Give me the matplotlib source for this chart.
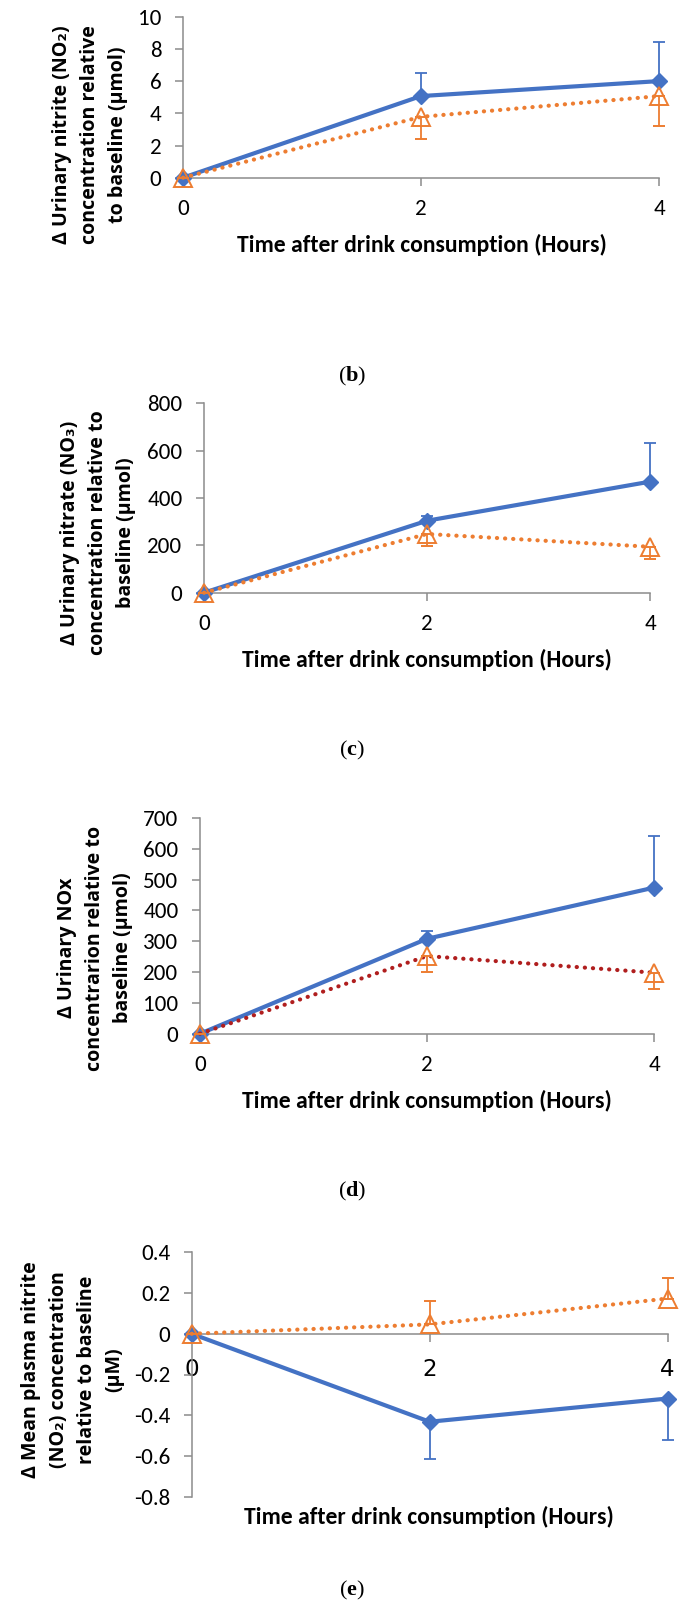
import matplotlib
matplotlib.use("Agg")
import matplotlib.pyplot as plt
from matplotlib.ticker import FuncFormatter

plt.rcParams["mathtext.fontset"] = "custom"
plt.rcParams["mathtext.rm"] = "Liberation Serif"
plt.rcParams["mathtext.bf"] = "Liberation Serif:bold"

# Data
hours = [0, 2, 4]

# (b) urinary nitrite, umol
b_blue = [0, 5.07, 6.0]
b_blue_err = [0, 1.45, 2.45]
b_orange = [0, 3.78, 5.07]
b_orange_err = [0, 1.40, 1.86]

# (c) urinary nitrate, umol
c_blue = [0, 304, 469]
c_blue_err = [0, 21, 164]
c_orange = [0, 248, 194]
c_orange_err = [0, 49, 52]

# (d) urinary NOx, umol
d_blue = [0, 308, 474]
d_blue_err = [0, 25, 166]
d_orange = [0, 252, 198]
d_orange_err = [0, 51, 53]

# (e) plasma nitrite, uM
e_blue = [0, -0.432, -0.318]
e_blue_err = [0, 0.181, 0.203]
e_orange = [0, 0.046, 0.173]
e_orange_err = [0, 0.114, 0.099]

BLUE = "#4472C4"
ORANGE = "#ED7D31"
DARKRED = "#B01E1E"
GREY = "#8C8C8C"

tick_font = ["Carlito", "Liberation Sans Narrow", "DejaVu Sans"]
label_font = ["Open Sans", "DejaVu Sans"]
XLABEL = "Time after drink consumption (Hours)"

W, H = 688, 1612
fig = plt.figure(figsize=(W / 100, H / 100), dpi=100)
renderer = fig.canvas.get_renderer()


def extent(t):
    return t.get_window_extent(renderer)


# work out font sizes so text matches the widths measured on the reference
t = fig.text(0, 0, "800", fontsize=10, family=tick_font)
tick_size = 10 * 35 / extent(t).width
t.remove()

t = fig.text(0, 0, XLABEL, fontsize=10, fontweight="bold", family=tick_font)
xlab_size = 10 * 370 / extent(t).width
t.remove()

t = fig.text(0, 0, "concentration relative to", fontsize=10, fontweight="bold",
             family=label_font)
ylab_size = 10 * 245 / extent(t).width
t.remove()
t1 = fig.text(0, 0, "A", fontsize=ylab_size, fontweight="bold", family=label_font)
t2 = fig.text(0, 0, "A\nA", fontsize=ylab_size, fontweight="bold", family=label_font)
ylab_spacing = 1.2 * 29 / (extent(t2).height - extent(t1).height)
t1.remove()
t2.remove()


def px_axes(left, right, top, bottom):
    return fig.add_axes([left / W, 1 - bottom / H, (right - left) / W, (bottom - top) / H])


def style_axes(ax, ylim, yticks, fmt=None):
    ax.set_xlim(0, 4)
    ax.set_ylim(*ylim)
    ax.set_xticks(hours)
    ax.set_yticks(yticks)
    for s in ["top", "right"]:
        ax.spines[s].set_visible(False)
    for s in ["left", "bottom"]:
        ax.spines[s].set_color(GREY)
        ax.spines[s].set_linewidth(1.1)
    ax.tick_params(colors=GREY, width=1.1, length=5.5, labelcolor="black",
                   labelsize=tick_size, pad=10)
    if fmt is not None:
        ax.yaxis.set_major_formatter(FuncFormatter(fmt))
    for lab in ax.get_xticklabels() + ax.get_yticklabels():
        lab.set_family(tick_font)


def draw_series(ax, blue, blue_err, orange, orange_err, blue_up=True, line_col=ORANGE):
    zeros = [0, 0, 0]
    berr = [zeros, blue_err] if blue_up else [blue_err, zeros]
    oerr = [orange_err, zeros] if blue_up else [zeros, orange_err]
    ax.errorbar(hours, blue, yerr=berr, color=BLUE, lw=3, marker="D", ms=8,
                elinewidth=1.3, capsize=4.5, capthick=1.3, clip_on=False, zorder=3)
    ax.plot(hours, orange, color=line_col, lw=3, linestyle=(0, (0.05, 1.9)),
            dash_capstyle="round", clip_on=False, zorder=4)
    ax.errorbar(hours, orange, yerr=oerr, color=ORANGE, linestyle="none", marker="^",
                ms=13, mfc="none", mec=ORANGE, mew=1.4, elinewidth=1.3, capsize=4.5,
                capthick=1.3, clip_on=False, zorder=5)


def ylabel(x, y, text):
    fig.text(x / W, 1 - y / H, text, rotation=90, ha="center", va="center",
             multialignment="center", fontsize=ylab_size, fontweight="bold",
             family=label_font, linespacing=ylab_spacing)


def xlabel(x, y):
    fig.text(x / W, 1 - y / H, XLABEL, ha="center", va="center",
             fontsize=xlab_size, fontweight="bold", family=tick_font)


def panel_letter(x, y, letter):
    fig.text(x / W, 1 - y / H, r"$\mathrm{(}\mathbf{%s}\mathrm{)}$" % letter,
             ha="center", va="center", fontsize=16)


# Panel (b)
ax = px_axes(183, 659, 16.7, 177.7)
style_axes(ax, (0, 10), [0, 2, 4, 6, 8, 10])
draw_series(ax, b_blue, b_blue_err, b_orange, b_orange_err)
ylabel(90, 135, "Δ Urinary nitrite (NO₂)\nconcentration relative\nto baseline (µmol)")
xlabel(422, 245)
panel_letter(352, 376, "b")

# Panel (c)
ax = px_axes(204, 650, 403.3, 592.7)
style_axes(ax, (0, 800), [0, 200, 400, 600, 800])
draw_series(ax, c_blue, c_blue_err, c_orange, c_orange_err)
ylabel(98, 533, "Δ Urinary nitrate (NO₃)\nconcentration relative to\nbaseline (µmol)")
xlabel(427, 660)
panel_letter(352, 750, "c")

# Panel (d)
ax = px_axes(200, 654, 818, 1033.7)
style_axes(ax, (0, 700), [0, 100, 200, 300, 400, 500, 600, 700])
draw_series(ax, d_blue, d_blue_err, d_orange, d_orange_err, line_col=DARKRED)
ylabel(95, 948, "Δ Urinary NOx\nconcentrarion relative to\nbaseline (µmol)")
xlabel(427, 1101)
panel_letter(352, 1191, "d")

# Panel (e)
ax = px_axes(191.7, 667.5, 1252.3, 1496.7)
style_axes(ax, (-0.8, 0.4), [-0.8, -0.6, -0.4, -0.2, 0, 0.2, 0.4],
           fmt=lambda v, p: "0" if abs(v) < 1e-9 else "%.1f" % v)
ax.spines["bottom"].set_position(("data", 0))
ax.tick_params(axis="x", pad=12)
draw_series(ax, e_blue, e_blue_err, e_orange, e_orange_err, blue_up=False)
ylabel(73, 1370, "Δ Mean plasma nitrite\n(NO₂) concentration\nrelative to baseline\n(µM)")
xlabel(429, 1517)
panel_letter(352, 1590, "e")

fig.savefig("out.png", dpi=100)
